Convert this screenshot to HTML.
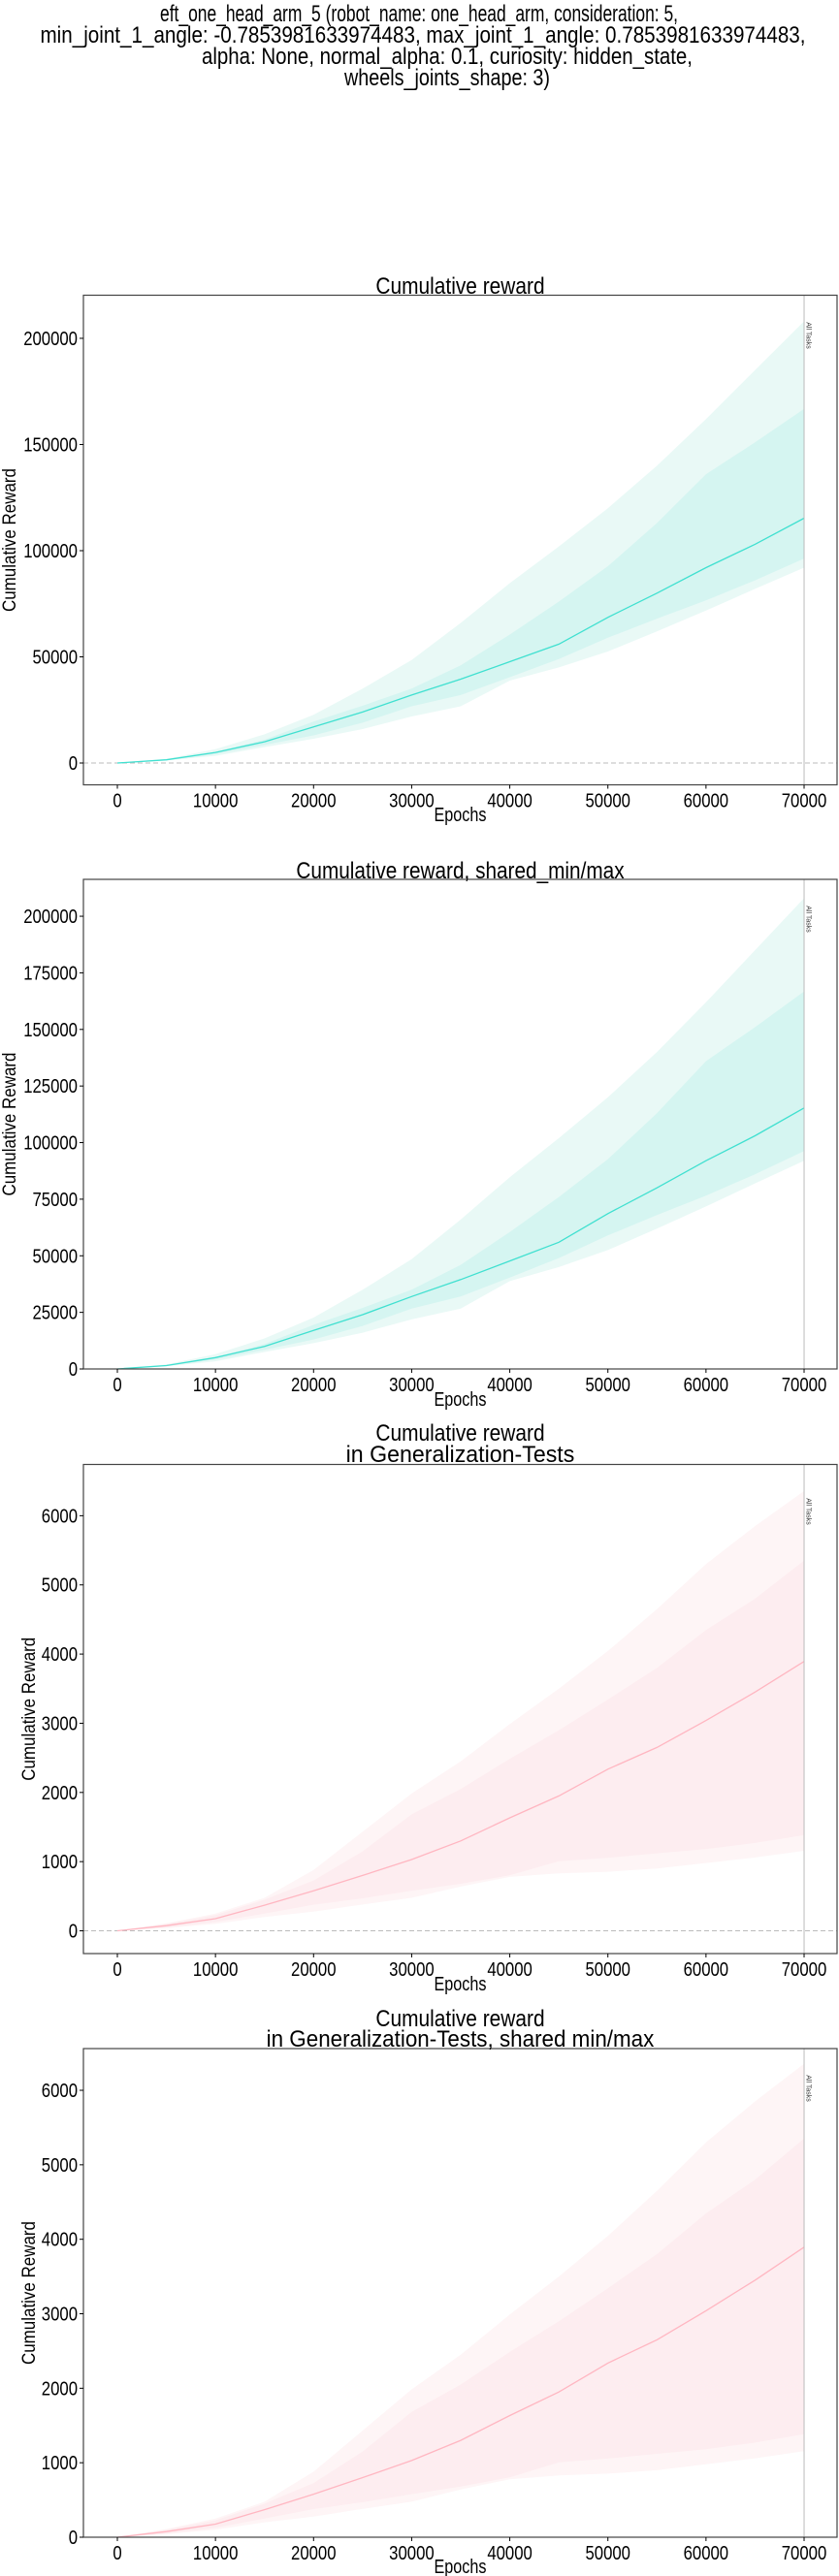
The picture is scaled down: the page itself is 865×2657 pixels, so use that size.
<!DOCTYPE html>
<html><head><meta charset="utf-8"><style>
html,body{margin:0;padding:0;background:#fff;}
svg{display:block;}
.t{font-family:"Liberation Sans",sans-serif;fill:#000;}
.yl{font-family:"Liberation Sans",sans-serif;font-size:19px;fill:#000;}
</style></head><body>
<svg id="fig" width="865" height="2657" viewBox="0 0 865 2657" xmlns="http://www.w3.org/2000/svg">
<g class="t" font-size="24" text-anchor="middle">
<text x="432" y="22" textLength="534" lengthAdjust="spacingAndGlyphs">eft_one_head_arm_5 (robot_name: one_head_arm, consideration: 5,</text>
<text x="436" y="44" textLength="789" lengthAdjust="spacingAndGlyphs">min_joint_1_angle: -0.7853981633974483, max_joint_1_angle: 0.7853981633974483,</text>
<text x="461" y="66" textLength="506" lengthAdjust="spacingAndGlyphs">alpha: None, normal_alpha: 0.1, curiosity: hidden_state,</text>
<text x="461" y="88" textLength="212" lengthAdjust="spacingAndGlyphs">wheels_joints_shape: 3)</text>
</g>
</svg>
<script>
// shared x sample points (epochs)
const epochs = [0,5000,10000,15000,20000,25000,30000,35000,40000,45000,50000,55000,60000,65000,70000];
// training reward series
const trainMean  = [0,1500,5000,10000,17000,24000,32000,39500,47700,56000,68600,80000,92000,103000,115300];
const trainInnerHi = [0,1800,5200,11000,19500,27000,35000,46000,60500,76000,92700,113000,136000,151000,166800];
const trainInnerLo = [0,1300,4200,8500,13000,19000,26700,32000,40400,49000,59000,68000,76600,86000,96300];
const trainMax = [0,2000,6500,13500,22700,35000,48500,66000,84700,102000,120000,140000,162000,185000,208000];
const trainMin = [0,1200,3400,7500,11400,16000,21900,26700,38800,45000,52500,62000,71800,82000,92000];
// generalization-test series
const genMean = [0,75,176,370,578,800,1030,1300,1633,1950,2337,2650,3040,3450,3894];
const genInnerHi = [0,100,226,450,728,1150,1683,2050,2487,2900,3342,3800,4347,4800,5352];
const genInnerLo = [0,50,126,250,377,470,578,680,804,1005,1055,1120,1181,1270,1382];
const genMax = [0,110,250,477,880,1432,1985,2450,2990,3500,4045,4650,5300,5850,6357];
const genMin = [0,40,100,200,276,380,477,640,779,830,854,900,980,1060,1156];
// tick labels
const xTicks = [0,10000,20000,30000,40000,50000,60000,70000];
const trainTicksA = [0,50000,100000,150000,200000];
const trainTicksB = [0,25000,50000,75000,100000,125000,150000,175000,200000];
const genTicks = [0,1000,2000,3000,4000,5000,6000];

const NS = "http://www.w3.org/2000/svg";
const svg = document.getElementById('fig');
function mk(tag, attrs, parent){const e=document.createElementNS(NS,tag);for(const k in attrs)e.setAttribute(k,attrs[k]);(parent||svg).appendChild(e);return e;}
function narrow(e, s, fs, k){e.textContent=s;e.setAttribute('textLength',(s.length*fs*k).toFixed(1));e.setAttribute('lengthAdjust','spacingAndGlyphs');}

function chart(cfg){
  const L=86,R=863,T=cfg.top,B=cfg.bottom;
  const XMIN=-3460, XMAX=73360;
  const xs=v=>L+(v-XMIN)/(XMAX-XMIN)*(R-L);
  const ys=v=>B-(v-cfg.ymin)/(cfg.ymax-cfg.ymin)*(B-T);
  const g=mk('g',{});
  
  
  function band(lo,hi,fill,nm){
    let d='M'+epochs.map((e,i)=>xs(e).toFixed(1)+','+ys(hi[i]).toFixed(1)).join('L');
    for(let i=epochs.length-1;i>=0;i--)d+='L'+xs(epochs[i]).toFixed(1)+','+ys(lo[i]).toFixed(1);
    const p=mk('path',{d:d+'Z',fill:fill,stroke:'none'},g);
    
    
  }
  band(cfg.min,cfg.max,cfg.c1,'min-max-band');
  band(cfg.lo,cfg.hi,cfg.c2,'std-band');
  if(cfg.zeroLine){
    const zl=mk('line',{x1:L,x2:R,y1:ys(0),y2:ys(0),stroke:'#bbb','stroke-width':1,'stroke-dasharray':'5,3'},g);
    
    
  }
  const ml=mk('polyline',{points:epochs.map((e,i)=>xs(e).toFixed(1)+','+ys(cfg.mean[i]).toFixed(1)).join(' '),fill:'none',stroke:cfg.lc,'stroke-width':1.3},g);
  
  
  const vl=mk('line',{x1:xs(70000),x2:xs(70000),y1:T,y2:B,stroke:'#bbb','stroke-width':1},g);
  
  
  const at=mk('text',{x:0,y:0,'font-family':'Liberation Sans,sans-serif','font-size':7,fill:'#333',transform:`translate(${xs(70000)+2.5},${cfg.atY}) rotate(90)`,'text-anchor':'middle'},g);
  at.textContent='All Tasks';
  
  
  const fr=mk('rect',{x:L,y:T,width:R-L,height:B-T,fill:'none',stroke:'#444','stroke-width':1.2},g);
  
  
  xTicks.forEach(v=>{
    mk('line',{x1:xs(v),x2:xs(v),y1:B,y2:B+4,stroke:'#000'},g);
    const t=mk('text',{x:xs(v),y:B+23,'text-anchor':'middle','font-size':20,class:'t'},g);
    narrow(t,String(v),20,0.465);
    
    
  });
  cfg.ticks.forEach(v=>{
    mk('line',{x1:L-4,x2:L,y1:ys(v),y2:ys(v),stroke:'#000'},g);
    const t=mk('text',{x:L-6,y:ys(v)+7,'text-anchor':'end','font-size':20,class:'t'},g);
    narrow(t,String(v),20,0.465);
    
    
  });
  const xl=mk('text',{x:(L+R)/2,y:cfg.xlY,'text-anchor':'middle','font-size':20,class:'t'},g);
  xl.textContent='Epochs';
  xl.setAttribute('textLength','54');
  xl.setAttribute('lengthAdjust','spacingAndGlyphs');
  
  
  const yl=mk('text',{x:0,y:0,'text-anchor':'middle',class:'yl',transform:`translate(${cfg.ylX},${(T+B)/2}) rotate(-90)`},g);
  yl.textContent='Cumulative Reward';
  yl.setAttribute('textLength','148');
  yl.setAttribute('lengthAdjust','spacingAndGlyphs');
  
  
  cfg.title.forEach((s,i)=>{
    const tt=mk('text',{x:(L+R)/2,y:cfg.titleY[i],'text-anchor':'middle','font-size':24,class:'t'},g);
    narrow(tt,s,24,0.427);
    
    
  });
}
const teal={c1:'#e9f9f6',c2:'#d5f5f1',lc:'#40e0d0',mean:trainMean,hi:trainInnerHi,lo:trainInnerLo,max:trainMax,min:trainMin};
const pink={c1:'#fef5f6',c2:'#fdedf0',lc:'#ffb6c1',mean:genMean,hi:genInnerHi,lo:genInnerLo,max:genMax,min:genMin};
chart(Object.assign({},teal,{name:'chart-cumulative-reward',top:304.5,bottom:809.5,ymin:-10270,ymax:220300,ticks:trainTicksA,zeroLine:true,atY:346,xlY:847,ylX:16,title:['Cumulative reward'],titleY:[303]}));
chart(Object.assign({},teal,{name:'chart-cumulative-reward-shared',top:907,bottom:1412,ymin:0,ymax:216300,ticks:trainTicksB,zeroLine:false,atY:948,xlY:1450,ylX:16,title:['Cumulative reward, shared_min/max'],titleY:[906]}));
chart(Object.assign({},pink,{name:'chart-generalization-reward',top:1510.5,bottom:2015,ymin:-329,ymax:6741,ticks:genTicks,zeroLine:true,atY:1559,xlY:2053,ylX:36,title:['Cumulative reward','in Generalization-Tests'],titleY:[1486,1508]}));
chart(Object.assign({},pink,{name:'chart-generalization-reward-shared',top:2113,bottom:2617,ymin:0,ymax:6560,ticks:genTicks,zeroLine:false,atY:2154,xlY:2654,ylX:36,title:['Cumulative reward','in Generalization-Tests, shared min/max'],titleY:[2090,2111]}));
</script>
</body></html>
